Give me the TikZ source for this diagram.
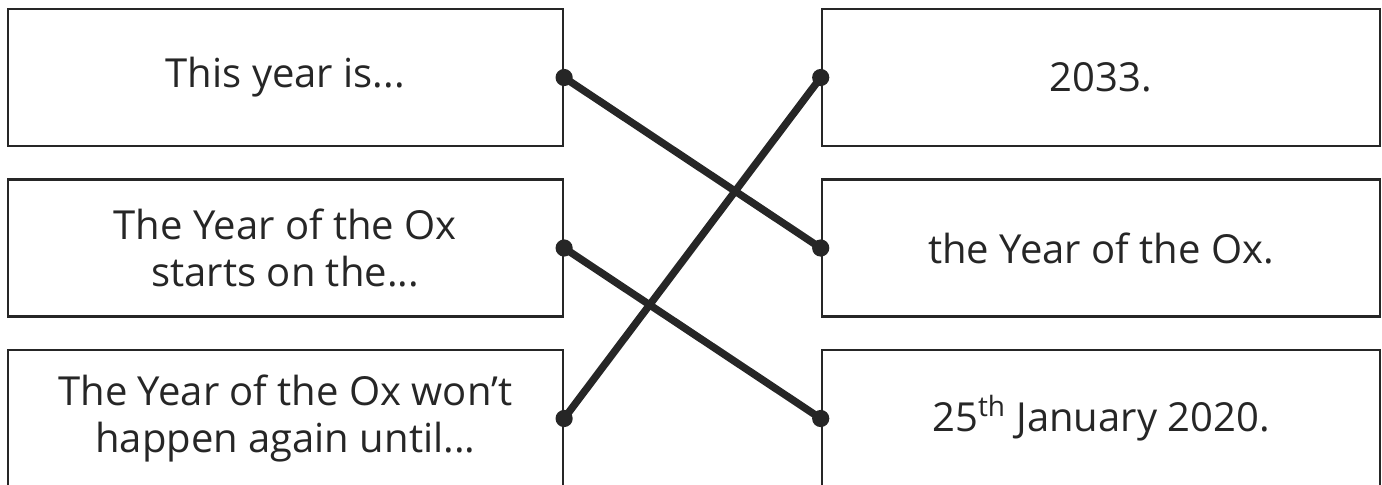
\documentclass[tikz,border=0pt]{standalone}
\usepackage{fontspec}
\setmainfont{Open Sans}
\usepackage{xcolor}
\usepackage{tikz}
\definecolor{ink}{HTML}{262626}

\begin{document}
\begin{tikzpicture}[x=0.5pt,y=-0.5pt,
    card/.style={draw=ink,line width=1.3pt,minimum height=68.5pt,align=center,
        text=ink,font=\fontsize{20}{23.5}\selectfont,inner sep=0pt},
    leftcard/.style={card,minimum width=277.5pt},
    rightcard/.style={card,minimum width=279pt},
    matchline/.style={draw=ink,line width=3.7pt,line cap=round},
    dot/.style={fill=ink}]
    \useasboundingbox (0,0) rectangle (1382,484);
    \node[leftcard] (q1) at (285.3,77.5) {This year is...};
    \node[leftcard] (q2) at (285.3,248) {The Year of the Ox\\starts on the...};
    \node[leftcard] (q3) at (285.3,418.5) {The Year of the Ox won’t\\happen again until...};
    \node[rightcard] (a1) at (1101,77.5) {2033.};
    \node[rightcard] (a2) at (1101,248) {the Year of the Ox.};
    \node[rightcard] (a3) at (1101,418.5) {25\textsuperscript{th} January 2020.};
    \draw[matchline] (q1.east) -- (a2.west);
    \draw[matchline] (q2.east) -- (a3.west);
    \draw[matchline] (q3.east) -- (a1.west);
    \foreach \n in {q1.east,q2.east,q3.east,a1.west,a2.west,a3.west}
        \fill[dot] (\n) circle (4.3pt);
\end{tikzpicture}
\end{document}
